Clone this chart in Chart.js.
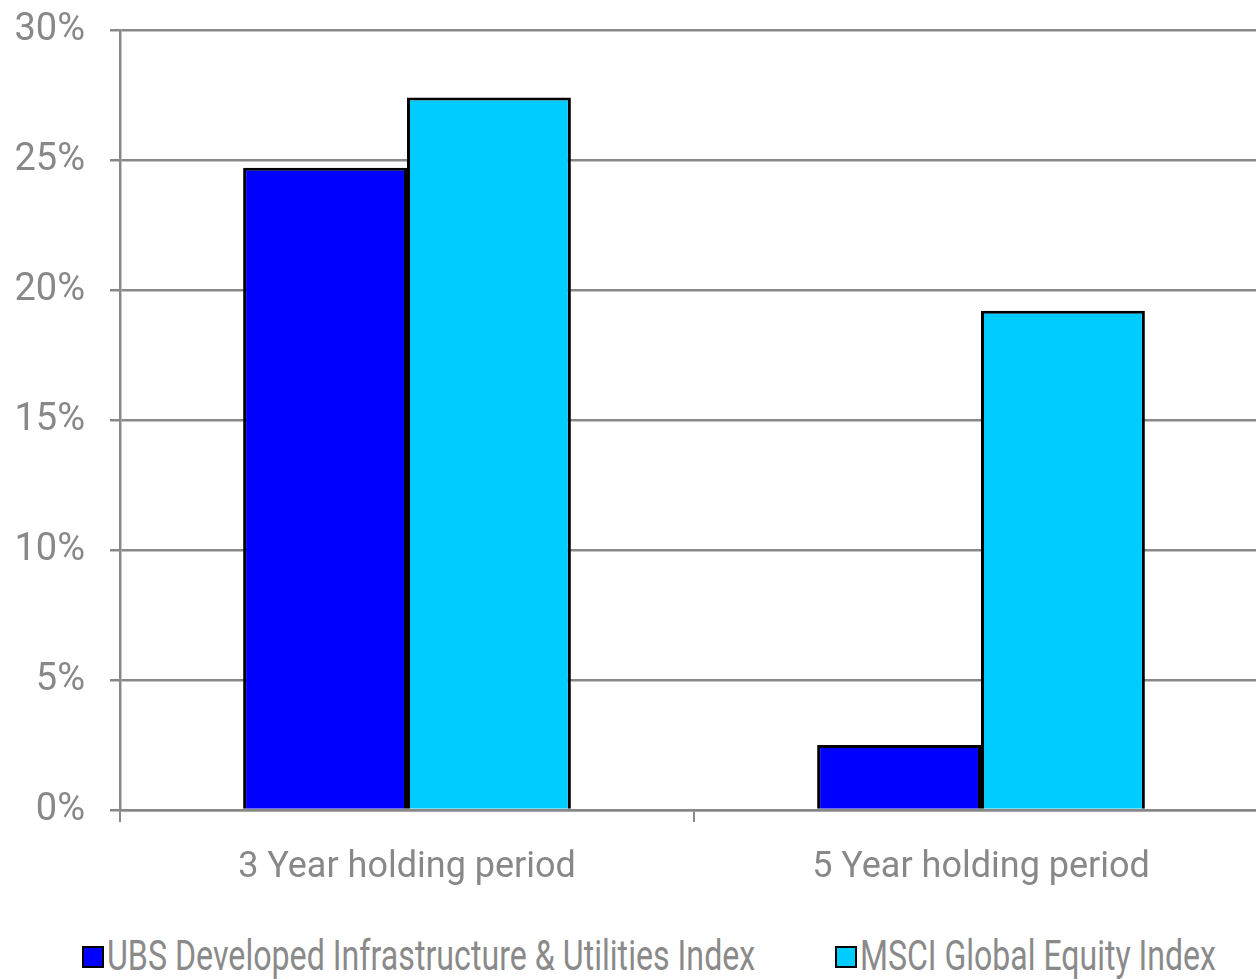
<!DOCTYPE html>
<html lang="en">
<head>
    <meta charset="UTF-8">
    <title>Holding period returns</title>
    <script src="https://cdn.jsdelivr.net/npm/chart.js"></script>
    <style>
        html, body { margin: 0; padding: 0; background: #fff; overflow: hidden; width: 1256px; height: 979px; }
        .wrap { position: relative; width: 1270px; height: 900px; }
        .legend { position: absolute; top: 933px; left: 0; width: 1256px; height: 46px;
                  font-family: Roboto, sans-serif; font-size: 42px; color: #8a8a8a; }
        .box { position: absolute; top: 13px; width: 18px; height: 18px; border: 2px solid #000; }
        .txt { position: absolute; top: 0; white-space: nowrap; line-height: 46px; transform-origin: 0 50%; }
    </style>
</head>
<body>
    <div class="wrap"><canvas id="returnsChart" width="1270" height="900"></canvas></div>
    <div class="legend">
        <span class="box" id="box0" style="left:82px"></span><span class="txt" id="txt0" style="left:107px"></span>
        <span class="box" id="box1" style="left:835px"></span><span class="txt" id="txt1" style="left:860px"></span>
    </div>

    <script>
        // dados
        const categories = ['3 Year holding period', '5 Year holding period'];
        const seriesNames = ['UBS Developed Infrastructure & Utilities Index', 'MSCI Global Equity Index'];
        const ubsValues = [24.7, 2.5];
        const msciValues = [27.4, 19.2];
        const yTicks = [0, 5, 10, 15, 20, 25, 30];

        const colours = ['#0000ff', '#00ccff'];
        const grey = '#888888';
        const fontFamily = "Roboto, sans-serif";
        const legendWidths = [648, 356];

        // legenda em HTML, comprimida na horizontal como no original
        seriesNames.forEach((name, i) => {
            document.getElementById('box' + i).style.background = colours[i];
            const t = document.getElementById('txt' + i);
            t.textContent = name;
            t.style.transform = 'scaleX(' + (legendWidths[i] / t.offsetWidth) + ')';
        });

        new Chart(document.getElementById('returnsChart'), {
            type: 'bar',
            data: {
                labels: categories,
                datasets: [
                    { label: seriesNames[0], data: ubsValues, backgroundColor: colours[0], borderColor: '#000', borderWidth: 3 },
                    { label: seriesNames[1], data: msciValues, backgroundColor: colours[1], borderColor: '#000', borderWidth: 3 }
                ]
            },
            options: {
                responsive: false,
                animation: false,
                layout: { padding: { top: 30, right: 2, left: 0, bottom: 0 } },
                datasets: { bar: { barPercentage: 1, categoryPercentage: 0.571 } },
                plugins: { legend: { display: false }, tooltip: { enabled: false } },
                scales: {
                    x: {
                        grid: { offset: true, drawOnChartArea: false, color: grey, lineWidth: 2, tickLength: 12 },
                        border: { color: grey, width: 2.5 },
                        ticks: { color: grey, font: { family: fontFamily, size: 36 }, padding: 24 },
                        afterFit: scale => { scale.height = 90; scale.paddingLeft = 0; scale.paddingRight = 0; }
                    },
                    y: {
                        min: 0, max: 30,
                        afterBuildTicks: scale => { scale.ticks = yTicks.map(v => ({ value: v })); },
                        grid: { color: grey, lineWidth: 2.5, tickLength: 10 },
                        border: { color: grey, width: 2.5 },
                        ticks: { color: grey, font: { family: fontFamily, size: 38 }, padding: 25, callback: v => v + '%' },
                        afterFit: scale => { scale.width = 120; scale.paddingTop = 0; scale.paddingBottom = 0; }
                    }
                }
            }
        });
    </script>
</body>
</html>
